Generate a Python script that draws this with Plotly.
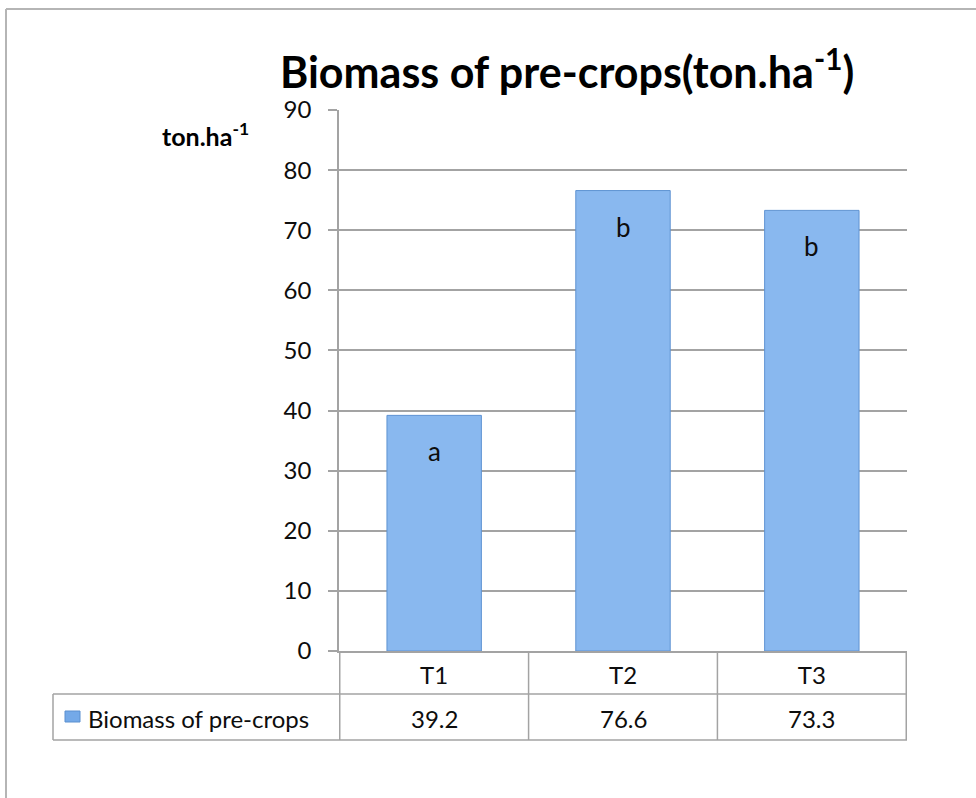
import plotly.graph_objects as go

categories = ["T1", "T2", "T3"]
biomass = [39.2, 76.6, 73.3]
letters = ["a", "b", "b"]
series_name = "Biomass of pre-crops"
title_text = "Biomass of pre-crops(ton.ha<sup>-1</sup>)"
y_title = "ton.ha<sup>-1</sup>"
y_ticks = [0, 10, 20, 30, 40, 50, 60, 70, 80, 90]

FONT = "Lato"
W, H = 976, 798
L, R, T, B = 339, 69, 110, 147
PW, PH = W - L - R, H - T - B


def px2x(px):
    return (px - L) / PW


def py2y(py):
    return (H - B - py) / PH


GRID = "#a3a3a3"
TXT = "#0d0d0d"

fig = go.Figure()
fig.add_trace(go.Bar(
    x=categories, y=biomass, name=series_name,
    marker=dict(color="#89b8ef", line=dict(color="#5f93d2", width=1)),
    showlegend=False, hoverinfo="skip",
))

annotations = []
# significance letters inside bars
for c, v, l in zip(categories, biomass, letters):
    annotations.append(dict(x=c, y=v, xref="x", yref="y", text=l, showarrow=False,
                            yshift=-36, font=dict(family=FONT, size=26, color=TXT)))
# data table values
row_mid = py2y(718)
for c, v in zip(categories, biomass):
    annotations.append(dict(x=c, y=row_mid, xref="x", yref="paper", text=f"{v:.1f}",
                            showarrow=False, yanchor="middle",
                            font=dict(family=FONT, size=24, color=TXT)))
annotations.append(dict(x=px2x(86), y=row_mid, xref="paper", yref="paper", text=series_name,
                        showarrow=False, xanchor="left", yanchor="middle",
                        font=dict(family=FONT, size=24, color=TXT)))
# title
annotations.append(dict(x=px2x(567), y=py2y(69), xref="paper", yref="paper", text=title_text,
                        showarrow=False, xanchor="center", yanchor="middle",
                        font=dict(family=FONT, size=43, color="#000000", weight="bold")))
# y axis title
annotations.append(dict(x=px2x(205), y=py2y(134), xref="paper", yref="paper", text=y_title,
                        showarrow=False, xanchor="center", yanchor="middle",
                        font=dict(family=FONT, size=25, color="#000000", weight="bold")))

shapes = []
row1 = py2y(694)
row2 = py2y(740)
ln = dict(color=GRID, width=1.5)
shapes.append(dict(type="line", xref="paper", yref="paper", x0=px2x(53), x1=1, y0=row1, y1=row1, line=ln))
shapes.append(dict(type="line", xref="paper", yref="paper", x0=px2x(53), x1=1, y0=row2, y1=row2, line=ln))
shapes.append(dict(type="line", xref="paper", yref="paper", x0=px2x(53), x1=px2x(53), y0=row1, y1=row2, line=ln))
for i in range(len(categories) + 1):
    shapes.append(dict(type="line", xref="x", yref="paper", x0=i - 0.5, x1=i - 0.5, y0=0, y1=row2, line=ln))
# legend key in table
shapes.append(dict(type="rect", xref="paper", yref="paper", x0=px2x(65), x1=px2x(80),
                   y0=py2y(722), y1=py2y(711), fillcolor="#74a9e8", line=dict(color="#5a8fcf", width=1)))
# outer chart border
shapes.append(dict(type="line", xref="paper", yref="paper", x0=px2x(6), x1=px2x(1000), y0=py2y(9), y1=py2y(9),
                   line=dict(color="#b5b5b5", width=2)))
shapes.append(dict(type="line", xref="paper", yref="paper", x0=px2x(6), x1=px2x(6), y0=py2y(9), y1=py2y(820),
                   line=dict(color="#b5b5b5", width=2)))

fig.update_layout(
    width=W, height=H,
    margin=dict(l=L, r=R, t=T, b=B, pad=0),
    paper_bgcolor="white", plot_bgcolor="white",
    bargap=0.5,
    font=dict(family=FONT, color=TXT),
    annotations=annotations, shapes=shapes,
    xaxis=dict(type="category", showline=True, linecolor=GRID, linewidth=1.5, ticks="",
               showgrid=False, tickfont=dict(family=FONT, size=24, color=TXT),
               ticklabelstandoff=2, fixedrange=True),
    yaxis=dict(range=[0, 90], tickvals=y_ticks, showline=True, linecolor=GRID, linewidth=1.5,
               gridcolor=GRID, gridwidth=1.5, ticks="outside", ticklen=9, tickcolor=GRID, tickwidth=1.5,
               tickfont=dict(family=FONT, size=24, color=TXT), ticklabelstandoff=12,
               zeroline=False, fixedrange=True),
)

fig.write_html("out.html", config={"displayModeBar": False},
               post_script="document.body.style.margin='0';")
